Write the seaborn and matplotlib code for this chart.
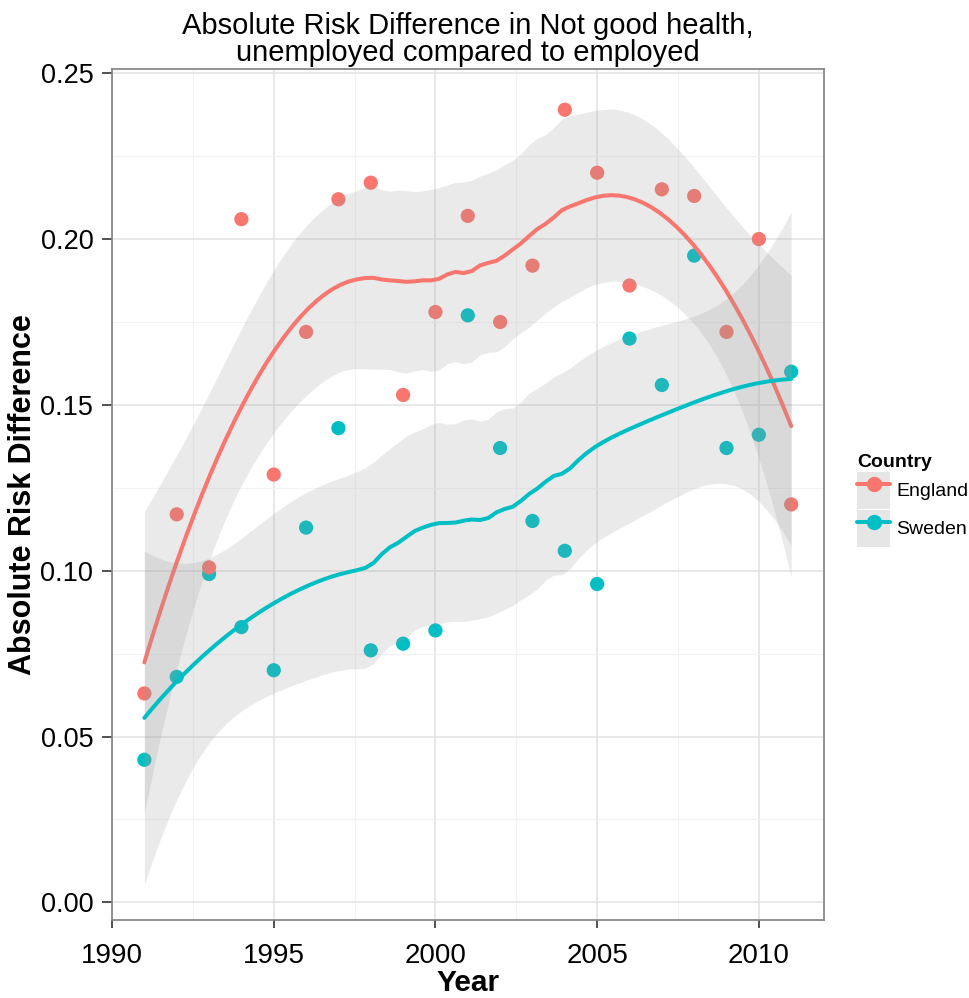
import numpy as np
import pandas as pd
import matplotlib
matplotlib.use("Agg")
import matplotlib.pyplot as plt
from matplotlib.lines import Line2D
from matplotlib.patches import Patch
from matplotlib.ticker import MultipleLocator, FormatStrFormatter
import seaborn as sns
from math import lgamma, exp, pi

# ---- data -------------------------------------------------------------
years = list(range(1991, 2012))
england = [0.063, 0.117, 0.101, 0.206, 0.129, 0.172, 0.212, 0.217, 0.153, 0.178,
           0.207, 0.175, 0.192, 0.239, 0.220, 0.186, 0.215, 0.213, 0.172, 0.200,
           0.120]
sweden = [0.043, 0.068, 0.099, 0.083, 0.070, 0.113, 0.143, 0.076, 0.078, 0.082,
          0.177, 0.137, 0.115, 0.106, 0.096, 0.170, 0.156, 0.195, 0.137, 0.141,
          0.160]
countries = ["England", "Sweden"]
palette = {"England": "#F8766D", "Sweden": "#00BFC4"}

df = pd.concat([
    pd.DataFrame({"Year": years, "ARD": sweden, "Country": "Sweden"}),
    pd.DataFrame({"Year": years, "ARD": england, "Country": "England"}),
], ignore_index=True)


# ---- local quadratic regression (loess, span 0.75) with 95% band --------
def _loess_weights(x, x0, span):
    n = len(x)
    q = int(np.floor(n * span))
    d = np.abs(x - x0)
    h = np.sort(d)[q - 1] * 1.0001
    u = np.clip(d / h, 0, 1)
    return (1 - u ** 3) ** 3


def _smoother_row(x, x0, span, degree=2):
    w = _loess_weights(x, x0, span)
    X = np.vander(x - x0, degree + 1, increasing=True)
    XtW = X.T * w
    A = XtW @ X
    return np.linalg.solve(A, XtW)[0]


def _t_quantile(p, df_):
    c = exp(lgamma((df_ + 1) / 2) - lgamma(df_ / 2)) / np.sqrt(df_ * pi)

    def cdf(t):
        g = np.linspace(0, t, 4001)
        f = c * (1 + g ** 2 / df_) ** (-(df_ + 1) / 2)
        return 0.5 + np.trapezoid(f, g)

    lo, hi = 0.0, 20.0
    for _ in range(60):
        mid = (lo + hi) / 2
        if cdf(mid) < p:
            lo = mid
        else:
            hi = mid
    return (lo + hi) / 2


def loess_band(x, y, grid, span=0.75, level=0.95):
    x = np.asarray(x, float)
    y = np.asarray(y, float)
    n = len(x)
    L = np.array([_smoother_row(x, xi, span) for xi in x])
    R = np.eye(n) - L
    M = R.T @ R
    d1 = np.trace(M)
    d2 = np.trace(M @ M)
    sigma = np.sqrt(np.sum((R @ y) ** 2) / d1)
    rows = np.array([_smoother_row(x, g, span) for g in grid])
    fit = rows @ y
    se = sigma * np.sqrt(np.sum(rows ** 2, axis=1))
    t = _t_quantile(0.5 + level / 2, d1 ** 2 / d2)
    return fit, fit - t * se, fit + t * se


# ---- figure ------------------------------------------------------------
sns.set_theme(style="white")
plt.rcParams["font.family"] = ["Liberation Sans", "DejaVu Sans"]
plt.rcParams["text.color"] = "black"
plt.rcParams["axes.labelcolor"] = "black"

fig = plt.figure(figsize=(9.70, 9.98), dpi=100)
ax = fig.add_axes([0.1155, 0.0782, 0.7335, 0.8524])

sns.scatterplot(data=df, x="Year", y="ARD", hue="Country", palette=palette,
                s=105, linewidth=0, alpha=1, legend=False, ax=ax, zorder=2)

grid = np.linspace(min(years), max(years), 80)
series = {"England": england, "Sweden": sweden}
z = 3
for c in countries:
    fit, lo, hi = loess_band(years, series[c], grid)
    ax.fill_between(grid, lo, hi, color="#999999", alpha=0.2, lw=0, zorder=z)
    sns.lineplot(x=grid, y=fit, color=palette[c], lw=2.9, ax=ax, zorder=z + 1)
    z += 2

# axes, ticks, grid
ax.set_xlim(1990, 2012)
ax.set_ylim(-0.0053, 0.2512)
ax.xaxis.set_major_locator(MultipleLocator(5))
ax.xaxis.set_minor_locator(MultipleLocator(2.5))
ax.yaxis.set_major_locator(MultipleLocator(0.05))
ax.yaxis.set_minor_locator(MultipleLocator(0.025))
ax.yaxis.set_major_formatter(FormatStrFormatter("%.2f"))
ax.grid(which="major", color="#E2E2E2", lw=1.1, zorder=0)
ax.grid(which="minor", color="#F3F3F3", lw=0.8, zorder=0)
ax.set_axisbelow(True)
for sp in ax.spines.values():
    sp.set_color("#808080")
    sp.set_linewidth(1.2)
ax.tick_params(which="major", direction="out", width=1.2, color="#333333",
               labelcolor="black", bottom=True, left=True)
ax.tick_params(axis="y", which="major", length=7, pad=6.5, labelsize=19.5)
ax.tick_params(axis="x", which="major", length=6, pad=10.5, labelsize=20)
ax.tick_params(which="minor", length=0)

ax.set_xlabel("Year", fontsize=21.5, fontweight="bold", labelpad=0)
ax.set_ylabel("Absolute Risk Difference", fontsize=22, fontweight="bold")
ax.yaxis.set_label_coords(-0.1045, 0.5)
ax.set_title("Absolute Risk Difference in Not good health,\n"
             "unemployed compared to employed", fontsize=21,
             linespacing=0.95, pad=6, color="black")

# legend: grey key box with line + point, as drawn by the smoother layer
handles = []
for c in countries:
    handles.append((Patch(facecolor="#E6E6E6", edgecolor="none"),
                    Line2D([], [], color=palette[c], lw=2.9, marker="o",
                           markersize=10)))
leg = fig.legend(handles, countries, title="Country",
                 loc="upper left", bbox_to_anchor=(0.8835, 0.545),
                 frameon=False, fontsize=14, title_fontsize=14,
                 handlelength=1.7, handleheight=2.55, handletextpad=0.3,
                 labelspacing=0.05, borderaxespad=0, borderpad=0)
leg.get_title().set_fontweight("bold")
leg._legend_box.align = "left"

fig.savefig("out.png", dpi=100)
